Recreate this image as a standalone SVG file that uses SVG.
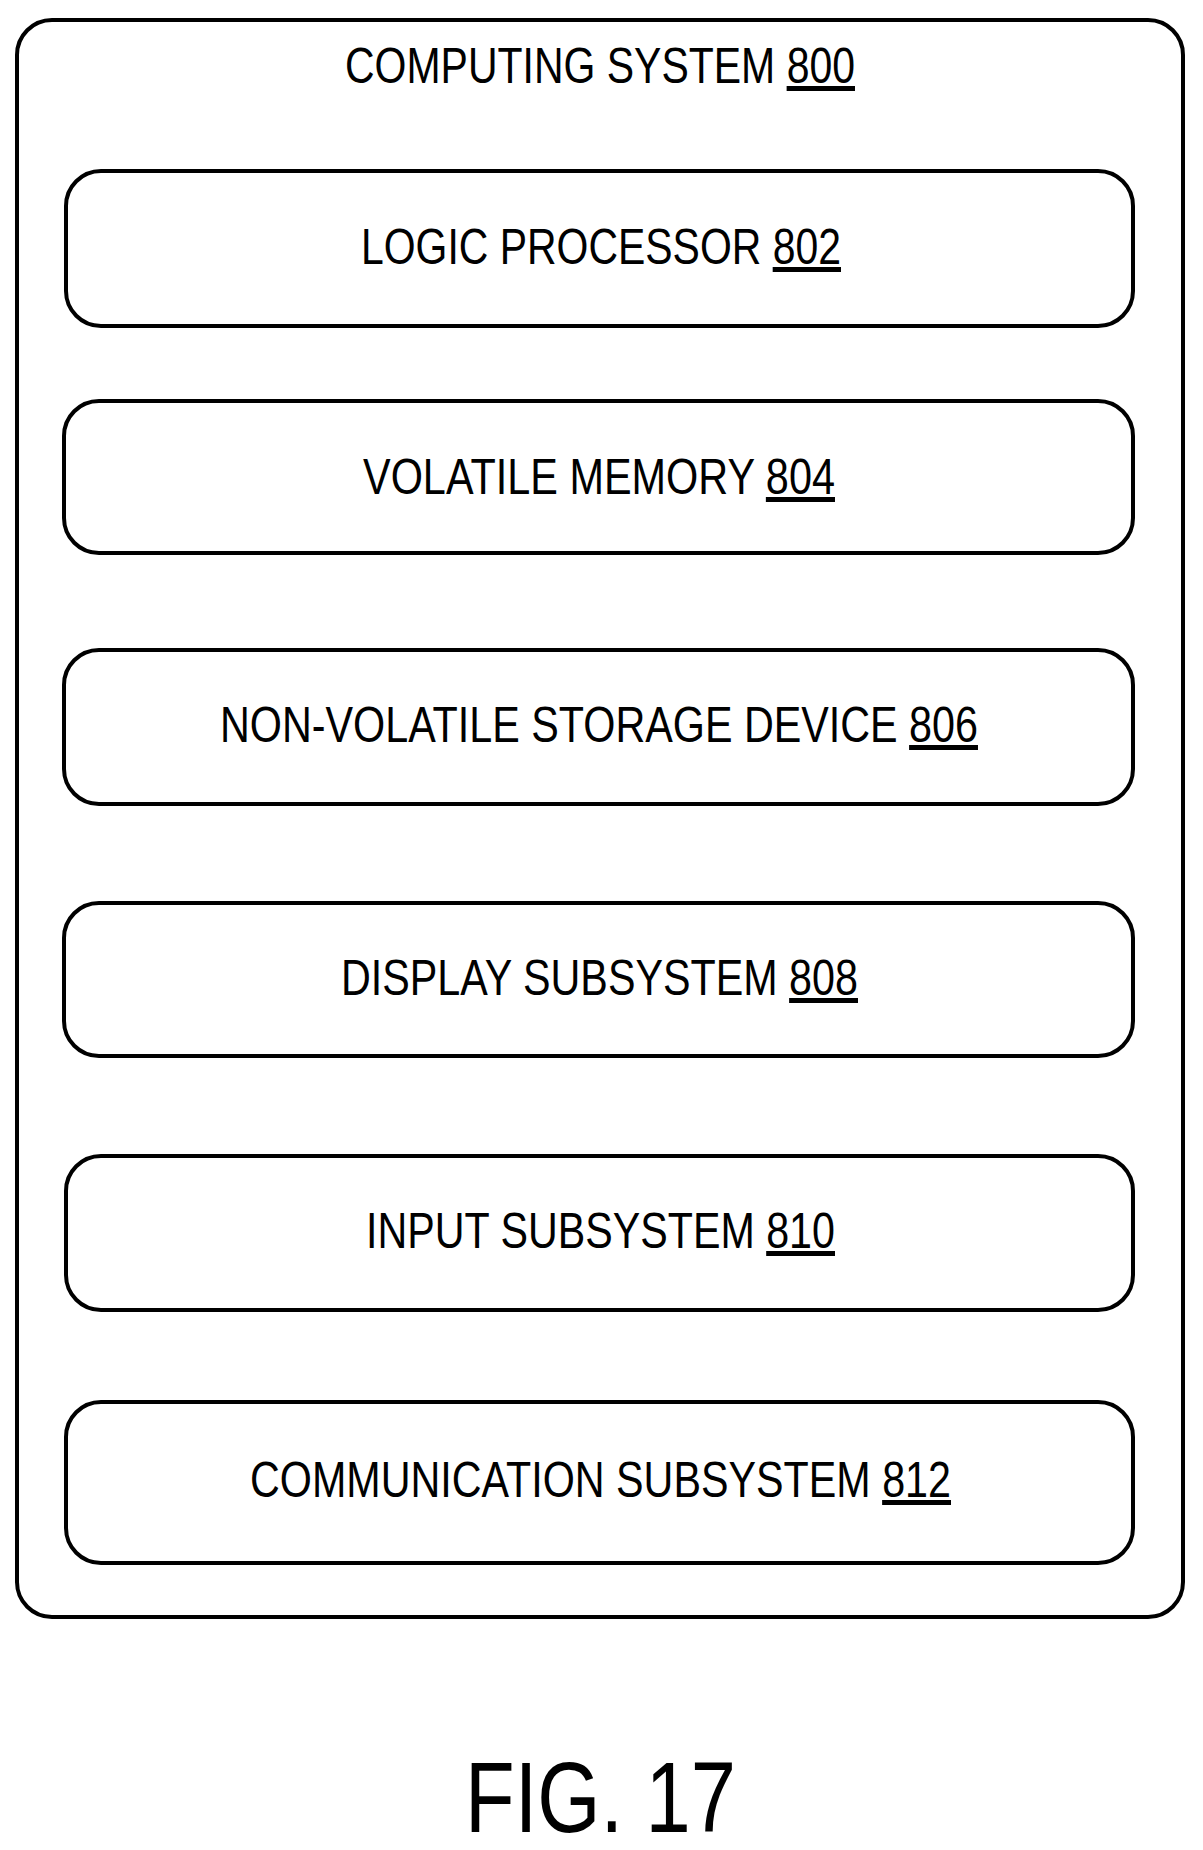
<svg xmlns="http://www.w3.org/2000/svg" width="1203" height="1850" viewBox="0 0 1203 1850">
<style>
rect{fill:#fff;stroke:#000;stroke-width:4}
text{font-family:"Liberation Sans",Arial,sans-serif;font-size:50px;fill:#000}
.u{text-decoration:underline}
</style>
<rect width="1203" height="1850" style="stroke:none"/>
<g id="computing-system">
<rect x="17" y="20" width="1166" height="1597" rx="35"/>
<text x="345" y="83" textLength="510" lengthAdjust="spacingAndGlyphs">COMPUTING SYSTEM <tspan class="u">800</tspan></text>
</g>
<g id="logic-processor">
<rect x="66" y="171" width="1067" height="155" rx="35"/>
<text x="361" y="264" textLength="480" lengthAdjust="spacingAndGlyphs">LOGIC PROCESSOR <tspan class="u">802</tspan></text>
</g>
<g id="volatile-memory">
<rect x="64" y="401" width="1069" height="152" rx="35"/>
<text x="363" y="494" textLength="472" lengthAdjust="spacingAndGlyphs">VOLATILE MEMORY <tspan class="u">804</tspan></text>
</g>
<g id="non-volatile-storage">
<rect x="64" y="650" width="1069" height="154" rx="35"/>
<text x="220" y="742" textLength="758" lengthAdjust="spacingAndGlyphs">NON-VOLATILE STORAGE DEVICE <tspan class="u">806</tspan></text>
</g>
<g id="display-subsystem">
<rect x="64" y="903" width="1069" height="153" rx="35"/>
<text x="341" y="995" textLength="517" lengthAdjust="spacingAndGlyphs">DISPLAY SUBSYSTEM <tspan class="u">808</tspan></text>
</g>
<g id="input-subsystem">
<rect x="66" y="1156" width="1067" height="154" rx="35"/>
<text x="366" y="1248" textLength="469" lengthAdjust="spacingAndGlyphs">INPUT SUBSYSTEM <tspan class="u">810</tspan></text>
</g>
<g id="communication-subsystem">
<rect x="66" y="1402" width="1067" height="161" rx="35"/>
<text x="250" y="1497" textLength="701" lengthAdjust="spacingAndGlyphs">COMMUNICATION SUBSYSTEM <tspan class="u">812</tspan></text>
</g>
<g id="connectors"></g>
<text x="465" y="1832" style="font-size:100px" textLength="271" lengthAdjust="spacingAndGlyphs">FIG. 17</text>
</svg>
